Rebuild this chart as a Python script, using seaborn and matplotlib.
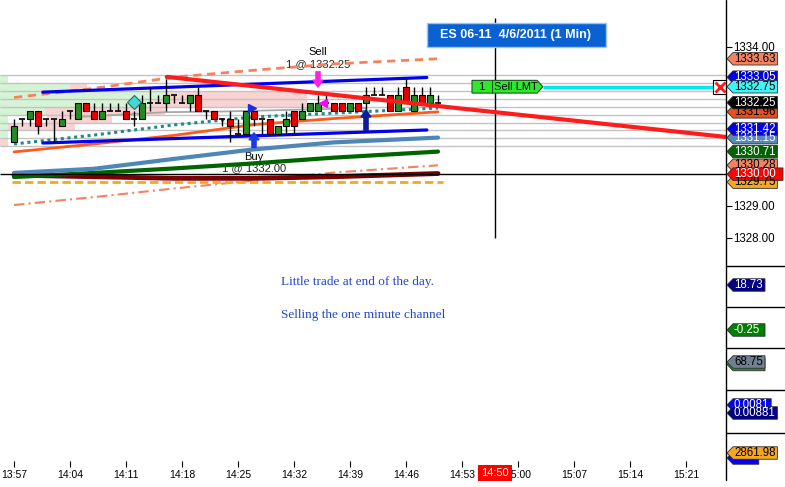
import numpy as np
import pandas as pd
import matplotlib
matplotlib.use("Agg")
import matplotlib.pyplot as plt
import seaborn as sns
from matplotlib.patches import Polygon, Rectangle
from matplotlib.lines import Line2D

# ---------------- data ----------------
# one-minute candles, 13:57 .. 14:50
candle_open = [1331.00, 1331.75, 1331.75, 1332.00, 1331.75, 1331.75, 1331.50, 1332.00, 1331.75, 1332.25,
               1332.00, 1331.75, 1332.00, 1332.00, 1332.00, 1331.75, 1331.75, 1332.25, 1332.25, 1332.25,
               1332.50, 1332.25, 1332.25, 1332.50, 1332.00, 1332.00, 1331.75, 1331.75, 1331.25, 1331.25,
               1332.00, 1331.75, 1331.75, 1331.25, 1331.50, 1332.00, 1331.75, 1332.00, 1332.00, 1332.25,
               1332.25, 1332.25, 1332.00, 1332.25, 1332.25, 1332.50, 1332.50, 1332.50, 1332.00, 1332.75,
               1332.00, 1332.50, 1332.25, 1332.25]
candle_high = [1331.75, 1331.75, 1332.00, 1332.00, 1331.75, 1331.75, 1332.00, 1332.00, 1332.25, 1332.25,
               1332.25, 1332.25, 1332.25, 1332.25, 1332.25, 1332.00, 1332.50, 1332.75, 1332.50, 1333.00,
               1332.50, 1332.50, 1332.50, 1332.75, 1332.00, 1332.00, 1331.75, 1332.00, 1331.75, 1332.00,
               1332.00, 1331.75, 1331.75, 1331.50, 1332.00, 1332.00, 1332.25, 1332.25, 1332.50, 1332.50,
               1332.25, 1332.25, 1332.25, 1332.25, 1332.75, 1332.75, 1332.75, 1332.50, 1332.75, 1333.00,
               1332.75, 1332.75, 1332.75, 1332.50]
candle_low = [1331.00, 1331.50, 1331.50, 1331.25, 1331.50, 1331.00, 1331.50, 1331.75, 1331.75, 1332.00,
              1331.75, 1331.75, 1332.00, 1332.00, 1331.75, 1331.50, 1331.75, 1332.00, 1332.25, 1332.00,
              1332.25, 1332.25, 1332.00, 1332.00, 1331.75, 1331.75, 1331.50, 1331.00, 1331.25, 1331.25,
              1331.50, 1331.25, 1331.25, 1331.25, 1331.25, 1331.25, 1331.75, 1332.00, 1332.00, 1332.25,
              1332.00, 1332.00, 1332.00, 1332.00, 1332.00, 1332.50, 1332.50, 1332.00, 1332.00, 1332.25,
              1332.00, 1332.25, 1332.25, 1332.25]
candle_close = [1331.50, 1331.75, 1332.00, 1331.50, 1331.75, 1331.75, 1331.75, 1332.00, 1332.25, 1332.00,
                1331.75, 1332.00, 1332.00, 1332.00, 1331.75, 1331.75, 1332.25, 1332.25, 1332.25, 1332.50,
                1332.50, 1332.25, 1332.50, 1332.00, 1332.00, 1331.75, 1331.75, 1331.50, 1331.25, 1332.00,
                1331.75, 1331.75, 1331.25, 1331.50, 1331.75, 1331.50, 1332.00, 1332.25, 1332.25, 1332.25,
                1332.00, 1332.00, 1332.25, 1332.00, 1332.50, 1332.50, 1332.50, 1332.00, 1332.50, 1332.25,
                1332.50, 1332.25, 1332.50, 1332.25]

# indicator anchor points (minutes after 13:57)
ind_minutes = [0, 10, 20, 30, 40, 53]
upper_env   = [1332.41, 1332.70, 1333.05, 1333.27, 1333.47, 1333.63]
lower_env   = [1329.03, 1329.28, 1329.55, 1329.80, 1330.05, 1330.28]
orange_ma   = [1330.70, 1330.95, 1331.22, 1331.56, 1331.75, 1331.96]
teal_ma     = [1330.95, 1331.23, 1331.55, 1331.80, 1331.92, 1332.08]
steel_ma    = [1330.04, 1330.17, 1330.48, 1330.78, 1331.00, 1331.15]
green_ma    = [1329.91, 1330.04, 1330.18, 1330.34, 1330.52, 1330.71]
maroon_ma   = [1329.97, 1329.92, 1329.87, 1329.87, 1329.92, 1330.02]
gray_minutes = [8, 19, 26, 44]
gray_line    = [1331.80, 1331.95, 1331.97, 1332.08]
chan_minutes = [3.6, 51.6]
chan_upper   = [1332.58, 1333.04]
chan_lower   = [1330.98, 1331.39]
trend_minutes = [19.1, 89.0]
trend_line    = [1333.06, 1331.17]
pivot_minutes = [-0.25, 53.6]
pivot_level   = 1329.75

# market-profile rows
prof_levels = [1333.00, 1332.75, 1332.50, 1332.25, 1332.00, 1331.75, 1331.50, 1331.25, 1331.00]
green_len   = [1.0, 8.75, 20.6, 18.75, 5.6, 1.0, 1.0, 1.0, 0.0]
pink_start  = [0.0, 8.75, 20.6, 18.75, 5.6, 5.9, 1.0, 0.0, 0.0]
pink_len    = [0.0, 2.1, 17.75, 19.6, 15.0, 8.1, 8.4, 0.0, 1.0]
grid_levels = [1330.875 + 0.25 * k for k in range(10)]

# right-axis price flags (value, fill, text colour) in drawing order
price_flags = [(1333.63, '#f4825f', 'black'), (1333.05, '#0000e6', 'white'),
               (1332.75, '#3ff5f5', 'black'), (1331.96, '#e8501e', 'black'),
               (1332.25, '#000000', 'white'), (1331.15, '#5a88b8', 'white'),
               (1331.42, '#0000e6', 'white'), (1330.71, '#006400', 'white'),
               (1330.28, '#f4825f', 'black'), (1329.75, '#f5a623', 'black'),
               (1330.00, '#ff0000', 'white')]
lower_flags = [('18.73', '#000080', 'white'), ('-0.25', '#008000', 'white'),
               ('68.75', '#708090', 'black'), ('0.0081', '#0000ff', 'white'),
               ('0.00881', '#000080', 'white'), ('2861.98', '#f5a623', 'black')]

order_price = 1332.75
crosshair_price = 1330.00
crosshair_minute = 60.1
sell_minute, sell_price_lbl = 38, "1 @ 1332.25"
buy_minute, buy_price_lbl = 30, "1 @ 1332.00"

time_ticks = [0, 7, 14, 21, 28, 35, 42, 49, 56, 63, 70, 77, 84]
time_labels = ["13:57", "14:04", "14:11", "14:18", "14:25", "14:32", "14:39",
               "14:46", "14:53", "15:00", "15:07", "15:14", "15:21"]
price_ticks = [1334, 1329, 1328]

# ---------------- figure ----------------
W, H = 785, 487
sns.set_theme(style="white")
plt.rcParams['font.family'] = ['Liberation Sans', 'DejaVu Sans']

fig = plt.figure(figsize=(W / 100, H / 100), dpi=100)
fig.patch.set_facecolor('white')
ax = fig.add_axes([0, 20 / H, 726 / W, 467 / H])
ax.set_facecolor('white')
ax.set_xlim(-1.75, 89.0)
ax.set_ylim(1320.79, 1335.478)
xl = -1.75

# profile shading
ax.barh(prof_levels, green_len, left=xl, height=0.25, color='#d5f4d5', lw=0, zorder=0)
ax.barh(prof_levels, pink_len, left=[xl + s for s in pink_start], height=0.25,
        color='#f9d2d2', lw=0, zorder=0)
ax.hlines(grid_levels, xl, 89.0, color='#c3c3c3', lw=1, zorder=0.5)

# indicators
def line(xs, ys, color, lw, ls='-', z=2):
    d = pd.DataFrame({'m': xs, 'p': ys})
    sns.lineplot(data=d, x='m', y='p', ax=ax, color=color, lw=lw, zorder=z)
    ax.lines[-1].set_linestyle(ls)

line(ind_minutes, upper_env, '#f4825f', 2, (0, (3, 2)))
line(ind_minutes, lower_env, '#f4825f', 1.5, (0, (5, 2, 1, 2)))
line(pivot_minutes, [pivot_level, pivot_level], '#f5a623', 2, (0, (3, 1.5)))
line(ind_minutes, maroon_ma, '#7a0000', 3.5)
line(ind_minutes, green_ma, '#006400', 3)
line(ind_minutes, steel_ma, '#4f86b8', 3)
line(ind_minutes, orange_ma, '#ff5a1a', 2)
line(ind_minutes, teal_ma, '#208a8a', 2.2, (0, (1, 1.2)))
line(gray_minutes, gray_line, '#a8a8a8', 1.3)
line(chan_minutes, chan_upper, '#0000f0', 2.3)
line(chan_minutes, chan_lower, '#0000f0', 2.3)

# crosshair
ax.hlines(crosshair_price, xl, 89.0, color='black', lw=1, zorder=2.5)
ax.vlines(crosshair_minute, 1328.0, 1334.9, color='black', lw=1, zorder=2.5)

# candles
mins = np.arange(len(candle_open))
ax.vlines(mins, candle_low, candle_high, color='black', lw=1, zorder=4)
for m, o, c in zip(mins, candle_open, candle_close):
    if o == c:
        ax.hlines(o, m - 0.4, m + 0.4, color='black', lw=1.2, zorder=5)
    else:
        col = '#238b23' if c > o else '#e80000'
        ax.bar(m, abs(c - o), bottom=min(o, c), width=0.78, color=col,
               edgecolor='black', lw=0.8, zorder=5)

# trend line on top
line(trend_minutes, trend_line, '#ff1c1c', 3, z=6)

# trade markers
ax.plot(15, 1332.27, marker='D', ms=7, mfc='#45d8d0', mec='#1f6f6f', mew=0.8, zorder=7)
ax.plot(29.8, 1332.07, marker='>', ms=6, color='#1a2ee0', zorder=7)
ax.plot(38.6, 1332.25, marker='<', ms=6, color='#ff00ff', zorder=7)

def arrow(x, tail, tip, color):
    ax.annotate('', xy=(x, tip), xytext=(x, tail),
                arrowprops=dict(arrowstyle='simple,head_width=0.7,head_length=0.5,tail_width=0.3',
                                color=color, mutation_scale=10, shrinkA=0, shrinkB=0), zorder=7)

arrow(sell_minute, 1333.22, 1332.74, '#ff22e6')
arrow(buy_minute, 1330.84, 1331.30, '#1a3ae6')
arrow(44, 1331.38, 1332.02, '#101a9a')

ax.text(sell_minute, 1333.84, "Sell", ha='center', va='center', fontsize=8, color='black', zorder=1)
ax.text(sell_minute, 1333.47, sell_price_lbl, ha='center', va='center', fontsize=8, color='#222', zorder=1)
ax.text(buy_minute, 1330.55, "Buy", ha='center', va='center', fontsize=8, color='black', zorder=1)
ax.text(buy_minute, 1330.20, buy_price_lbl, ha='center', va='center', fontsize=8, color='#222', zorder=1)

# working order
ax.hlines(order_price, 66.1, 87.4, color='#00e8f0', lw=2.5, zorder=3)
p = order_price
ax.add_patch(Polygon([(57.25, p - 0.2), (65.4, p - 0.2), (66.1, p), (65.4, p + 0.2), (57.25, p + 0.2)],
                     closed=True, fc='#2ee82e', ec='#1a5a1a', lw=0.8, zorder=7))
ax.vlines(59.75, p - 0.2, p + 0.2, color='#1a5a1a', lw=0.8, zorder=8)
ax.text(58.45, p, "1", ha='center', va='center', fontsize=8, color='black', zorder=8)
ax.text(59.95, p, "Sell LMT", ha='left', va='center', fontsize=8, color='black', zorder=8)
ax.plot(88.2, p, marker='s', ms=9.5, mfc='white', mec='black', mew=0.8, zorder=8)
ax.plot(88.2, p, marker='x', ms=6.5, mec='#ff1a1a', mew=2, zorder=9)

# commentary
ax.text(33.4, 1326.61, "Little trade at end of the day.", fontsize=9.5, color='#2446c8',
        family=['Liberation Serif', 'DejaVu Serif'], va='center', ha='left')
ax.text(33.4, 1325.57, "Selling the one minute channel", fontsize=9.5, color='#2446c8',
        family=['Liberation Serif', 'DejaVu Serif'], va='center', ha='left')

# axes styling
for s in ax.spines.values():
    s.set_visible(False)
ax.set_xticks(time_ticks)
ax.set_xticklabels(time_labels)
ax.tick_params(axis='x', direction='in', length=4, width=0.8, color='black', pad=2,
               labelsize=7.5, labelcolor='black', bottom=True)
ax.yaxis.tick_right()
ax.set_yticks(price_ticks)
ax.set_yticklabels([f"{v:.2f}" for v in price_ticks])
ax.tick_params(axis='y', direction='out', length=4, width=0.8, color='black', pad=1,
               labelsize=8.3, labelcolor='black', right=True, left=False)
ax.set_xlabel('')
ax.set_ylabel('')
ax.grid(False)

# title box
fig.add_artist(Rectangle((427 / W, 1 - 47 / H), 179 / W, 24 / H, transform=fig.transFigure,
                         fc='#0a62d2', ec='#9ec4f0', lw=1, zorder=10))
fig.text(516 / W, 1 - 35 / H, "ES 06-11  4/6/2011 (1 Min)", ha='center', va='center',
         fontsize=9, weight='bold', color='white', zorder=11)

# right axis line and panel separators
fig.add_artist(Line2D([726 / W, 726 / W], [1, 1 - 480 / H], color='black', lw=1, transform=fig.transFigure))
for ypx in [266, 307, 348, 390, 433]:
    fig.add_artist(Line2D([726 / W, 1], [1 - ypx / H] * 2, color='black', lw=1, transform=fig.transFigure))

def flag(ypx, text, fc, tc, h=12.5, wide=False, nchar=None):
    x_tip, x_body = 727, 733
    n = len(text) if nchar is None else nchar
    x_end = 783 if wide else x_body + 6.2 * n + 1
    pts = [(x_tip, ypx), (x_body, ypx - h / 2), (x_end, ypx - h / 2), (x_end, ypx + h / 2), (x_body, ypx + h / 2)]
    fig.add_artist(Polygon([(x / W, 1 - y / H) for x, y in pts], closed=True, transform=fig.transFigure,
                           fc=fc, ec='#303030', lw=0.6, zorder=12))
    if text:
        fig.text((x_body + 1) / W, 1 - ypx / H, text, ha='left', va='center', fontsize=8.3,
                 color=tc, zorder=13)

def price_px(v):
    return H - ax.transData.transform((0, v))[1]

for v, fc, tc in price_flags:
    flag(price_px(v), f"{v:.2f}", fc, tc, wide=(v == crosshair_price))

lower_y = [285, 330, 362, 405, 413, 453]
flag(364.5, '', '#2a8a2a', 'black', nchar=5)
flag(458, '', '#0000ff', 'white', nchar=4)
for ypx, (t, fc, tc) in zip(lower_y, lower_flags):
    flag(ypx, t, fc, tc)

# crosshair time label
fig.text(495 / W, 1 - 473 / H, "14:50", ha='center', va='center', fontsize=8, color='white', zorder=14,
         bbox=dict(boxstyle='square,pad=0.25', fc='#ff0000', ec='none'))

fig.savefig('out.png', dpi=100)
